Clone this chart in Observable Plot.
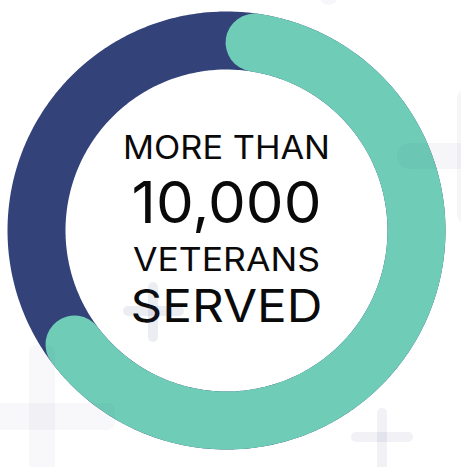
<!DOCTYPE html>
<html>
<head>
<meta charset="utf-8">
<script src="https://cdn.jsdelivr.net/npm/d3@7"></script>
<script src="https://cdn.jsdelivr.net/npm/@observablehq/plot@0.6"></script>
<style>
  html, body { margin: 0; padding: 0; background: #ffffff; }
  #wrap { position: relative; width: 461px; height: 467px; overflow: hidden; }
  #chart svg { display: block; background: transparent; }
  .deco { position: absolute; pointer-events: none; }
</style>
</head>
<body>
<div id="wrap">
  <div id="chart"></div>
</div>
<script>
// ---- data ----
const categories = ["Veterans served", "Remaining"];
const shares = [62.4, 37.6];            // percent of the ring
const labelLines = ["MORE THAN", "10,000", "VETERANS", "SERVED"];

// ---- layout / style constants ----
const W = 461, H = 467;
const cx = 226, cy = 230, R = 190, ringWidth = 58;
const startDeg = 8.5;                    // ring start, clockwise from 12 o'clock
const colors = {"Veterans served": "#6FCDB7", "Remaining": "#33437A"};
const fontSizes = [32, 58, 32, 45];
const dys = [-72, -8, 40, 91];
const widths = [207, 190, 187, 192];

function arcPoints(fromPct, toPct, n = 240) {
  const pts = [];
  for (let i = 0; i <= n; i++) {
    const pct = fromPct + (toPct - fromPct) * i / n;
    const a = (startDeg + pct * 3.6) * Math.PI / 180;
    pts.push({x: Math.sin(a), y: Math.cos(a)});
  }
  return pts;
}

const servedPts = arcPoints(0, shares[0]);
const fullRing = arcPoints(0, 100);

const plot = Plot.plot({
  width: W,
  height: H,
  margin: 0,
  x: {domain: [-1, 1], range: [cx - R, cx + R], axis: null},
  y: {domain: [-1, 1], range: [cy + R, cy - R], axis: null},
  style: {background: "transparent"},
  marks: [
    Plot.line(fullRing, {x: "x", y: "y", stroke: colors[categories[1]], strokeWidth: ringWidth, curve: "linear"}),
    Plot.line(servedPts, {x: "x", y: "y", stroke: colors[categories[0]], strokeWidth: ringWidth, strokeLinecap: "round", curve: "linear"}),
    ...labelLines.map((t, i) => Plot.text([t], {
      x: () => 0, y: () => 0, text: d => d,
      dy: dys[i], lineAnchor: "bottom",
      fontSize: fontSizes[i], fill: "#0a0a0a",
      fontFamily: "Inter, Lato, sans-serif", fontWeight: 400
    }))
  ]
});
document.getElementById("chart").appendChild(plot);

// fit text widths to the reference
plot.querySelectorAll("text").forEach((el, i) => {
  if (i < widths.length) {
    el.setAttribute("textLength", widths[i]);
    el.setAttribute("lengthAdjust", "spacingAndGlyphs");
  }
});

// faint decorative plus signs (background ornament)
const wrap = document.getElementById("wrap");
function bar(left, top, w, h, color, r) {
  const d = document.createElement("div");
  d.className = "deco";
  Object.assign(d.style, {left: left + "px", top: top + "px", width: w + "px", height: h + "px",
    background: color, borderRadius: r + "px"});
  wrap.appendChild(d);
}
const c1 = "rgba(40,40,110,0.03)";
bar(29, 345, 26, 140, c1, 8);
bar(-20, 403, 135, 27, c1, 8);
const c2 = "rgba(40,50,110,0.045)";
bar(397, 143, 100, 26, c2, 13);
bar(457, 90, 26, 133, c2, 8);
const c3 = "rgba(40,50,120,0.09)";
bar(148, 282, 10, 60, c3, 5);
bar(123, 306, 61, 10, c3, 5);
const c4 = "rgba(40,50,120,0.065)";
bar(377, 408, 10, 70, c4, 5);
bar(351, 432, 62, 10, c4, 5);
bar(320, -15, 17, 20, "rgba(40,50,120,0.04)", 8);
</script>
</body>
</html>
